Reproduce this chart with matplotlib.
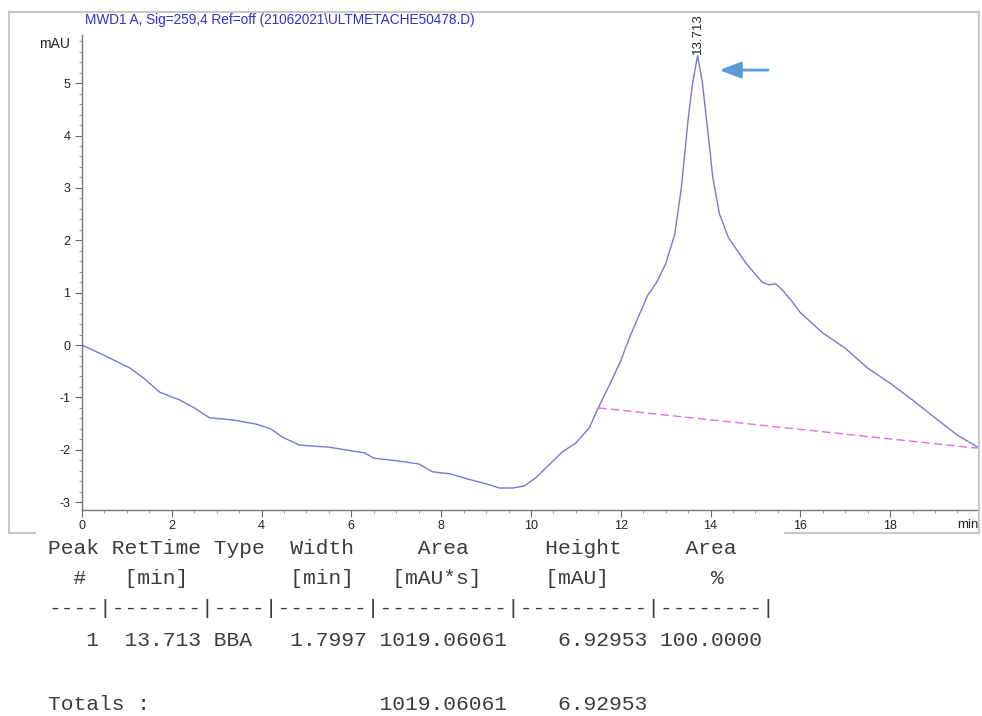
import numpy as np
import matplotlib.pyplot as plt
from matplotlib.lines import Line2D

plt.rcParams["axes.unicode_minus"] = False

# signal trace (retention time in min, absorbance in mAU)
t = [0.0, 0.5, 1.07, 1.4, 1.73, 2.18, 2.5, 2.84, 3.36, 3.88, 4.2, 4.47, 4.84,
     5.5, 6.0, 6.3, 6.5, 7.0, 7.5, 7.8, 8.2, 8.6, 9.0, 9.3, 9.6, 9.85, 10.1,
     10.4, 10.7, 11.0, 11.3, 11.5, 11.8, 12.0, 12.2, 12.4, 12.6, 12.8, 13.0,
     13.2, 13.35, 13.5, 13.6, 13.713, 13.82, 13.95, 14.05, 14.2, 14.4, 14.6,
     14.8, 15.0, 15.15, 15.3, 15.45, 15.6, 15.8, 16.0, 16.5, 17.0, 17.5, 18.0,
     18.5, 19.0, 19.5, 19.95]
mau = [0.0, -0.2, -0.44, -0.65, -0.9, -1.05, -1.2, -1.39, -1.43, -1.51, -1.6,
       -1.76, -1.91, -1.95, -2.02, -2.06, -2.16, -2.21, -2.27, -2.42, -2.46,
       -2.56, -2.65, -2.73, -2.73, -2.69, -2.54, -2.29, -2.04, -1.87, -1.58,
       -1.2, -0.67, -0.3, 0.15, 0.55, 0.95, 1.2, 1.55, 2.1, 3.0, 4.3, 5.0,
       None, 5.0, 4.0, 3.2, 2.5, 2.05, 1.8, 1.55, 1.35, 1.2, 1.15, 1.17, 1.05,
       0.85, 0.62, 0.23, -0.06, -0.44, -0.73, -1.05, -1.39, -1.72, -1.95]

# integration baseline of peak 1
base_t = [11.5, 19.95]
base_v = [-1.2, -1.97]

peak_rt = 13.713
peak_height = 6.92953
peak_base = np.interp(peak_rt, base_t, base_v)
mau[t.index(peak_rt)] = peak_base + peak_height

report_header = [
    "Peak RetTime Type  Width     Area      Height     Area  ",
    "  #   [min]        [min]   [mAU*s]     [mAU]        %   ",
    "----|-------|----|-------|----------|----------|--------|",
    "   1  13.713 BBA   1.7997 1019.06061    6.92953 100.0000",
]
report_total = "Totals :                  1019.06061    6.92953"

fig = plt.figure(figsize=(9.82, 7.16), dpi=100)
W, H = 982, 716

# outer light grey frame
frame = dict(color="#c8c8c8", lw=1.5, transform=fig.transFigure)
fig.add_artist(Line2D([9/W, 979/W], [1-12/H, 1-12/H], **frame))
fig.add_artist(Line2D([9/W, 9/W], [1-12/H, 1-533/H], **frame))
fig.add_artist(Line2D([979/W, 979/W], [1-12/H, 1-533/H], **frame))
fig.add_artist(Line2D([9/W, 35/W], [1-533/H, 1-533/H], **frame))
fig.add_artist(Line2D([785/W, 979/W], [1-533/H, 1-533/H], **frame))

ax = fig.add_axes([82/W, 1-510/H, (979-82)/W, (510-35)/H])
ax.plot(t, mau, color="#7878d8", lw=1.0)
ax.plot(base_t, base_v, color="#e070e0", lw=1.0, ls=(0, (6, 3)))
ax.set_xlim(0, 19.98)
ax.set_ylim(-3.15, 5.92)

for s in ["top", "right"]:
    ax.spines[s].set_visible(False)
for s in ["left", "bottom"]:
    ax.spines[s].set_color("#777777")
    ax.spines[s].set_linewidth(1.0)

ax.set_xticks(np.arange(0, 19, 2))
ax.set_xticks(np.arange(0, 20, 0.5), minor=True)
ax.set_yticks(np.arange(-3, 6, 1))
ax.set_yticks(np.arange(-3, 5.9, 0.2), minor=True)
ax.tick_params(which="major", length=5, color="#666666", labelsize=9,
               labelcolor="#222222", labelfontfamily="Liberation Sans")
ax.tick_params(which="minor", length=2.5, color="#888888")
ax.tick_params(axis="x", pad=2)

fig.text(70/W, 1-44/H, "mAU", ha="right", va="center", fontsize=10,
         family="Liberation Sans", color="#222222")
fig.text(968/W, 1-525/H, "min", ha="center", va="center", fontsize=9.5,
         family="Liberation Sans", color="#222222")
fig.text(85/W, 1-20/H,
         r"MWD1 A, Sig=259,4 Ref=off (21062021\ULTMETACHE50478.D)",
         ha="left", va="center", fontsize=9.8, family="Liberation Sans",
         color="#3030d0")

# retention time label above the peak
ax.annotate(f"{peak_rt:.3f}", xy=(peak_rt, peak_base + peak_height),
            xytext=(0, 1), textcoords="offset points", rotation=90,
            ha="center", va="bottom", fontsize=9.5, family="Liberation Sans",
            color="#222222")

# pointer arrow
ax.annotate("", xy=(14.2, 5.25), xytext=(15.28, 5.25),
            arrowprops=dict(arrowstyle="-|>,head_length=1.3,head_width=0.5",
                            color="#5b9bd5", lw=2.0, shrinkA=0, shrinkB=0))

# peak report table
rows_y = [549, 579, 609, 641]
for line, y in zip(report_header, rows_y):
    fig.text(48/W, 1-y/H, line, ha="left", va="center", fontsize=15.3,
             family="Liberation Mono", color="#3c3c3c")
fig.text(48/W, 1-705/H, report_total, ha="left", va="center", fontsize=15.3,
         family="Liberation Mono", color="#3c3c3c")

fig.savefig("out.png", dpi=100)
